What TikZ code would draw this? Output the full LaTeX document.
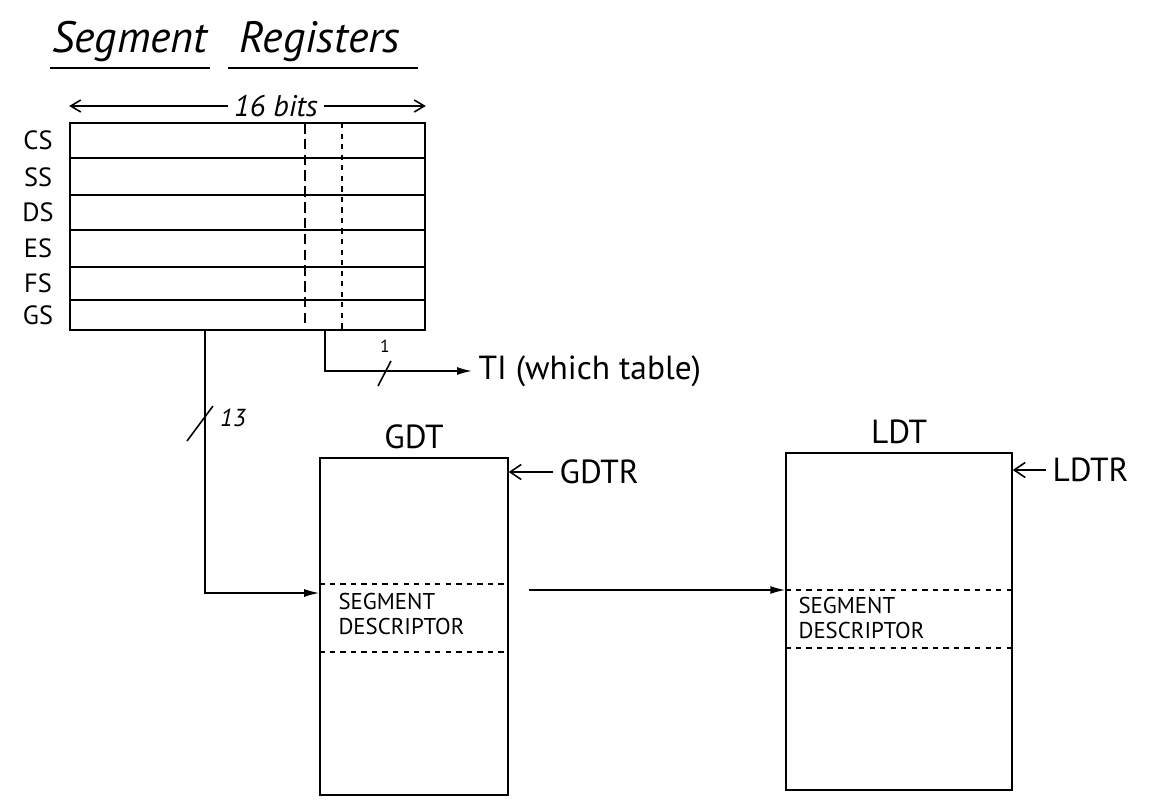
\documentclass[tikz,border=0pt]{standalone}
\usepackage{fontspec}
\setmainfont{PT Sans}
\usetikzlibrary{arrows.meta,positioning}

\begin{document}
\begin{tikzpicture}[x=0.02cm,y=-0.02cm,line width=0.9pt,
  regbox/.style={draw,inner sep=0pt,minimum width=7.1cm,minimum height=4.14cm},
  table/.style={draw,inner sep=0pt,minimum height=6.74cm},
  reglabel/.style={font=\fontsize{15}{17}\selectfont},
  big/.style={font=\fontsize{19}{22}\selectfont},
  desc/.style={font=\fontsize{13}{14}\selectfont,align=left,inner sep=1pt},
  conn/.style={-{Latex[length=3mm,width=1.6mm]}},
  ptr/.style={-{Straight Barb[length=2.2mm,width=3mm]}},
  sep/.style={dash pattern=on 6pt off 3pt}]
\useasboundingbox (0,0) rectangle (1168,804);

\node[font=\fontsize{25}{28}\selectfont\itshape] (segw) at (130,42) {Segment};
\node[font=\fontsize{25}{28}\selectfont\itshape] (regw) at (320,42) {Registers};
\draw (50,68) -- (210,68);
\draw (228,68) -- (418,68);

\node[regbox] (regs) at (247.5,226.5) {};
\node[font=\fontsize{17}{20}\selectfont\itshape] (width) at (276,106) {16 bits};
\draw[-{Straight Barb[length=2mm,width=2.4mm]}] (width.west) -- (width.west -| regs.west);
\draw[-{Straight Barb[length=2mm,width=2.4mm]}] (width.east) -- (width.east -| regs.east);

\foreach \y in {158,195,230,267,300}
  \draw (70,\y) -- (425,\y);
\draw[sep] (305,123) -- (305,330);
\draw[dashed] (342,123) -- (342,330);

\foreach \r/\y in {CS/140,SS/177,DS/212,ES/248,FS/283,GS/315}
  \node[reglabel] (r\r) at (38,\y) {\r};

\node[big,anchor=west] (ti) at (472,371) {TI (which table)};
\draw[conn] (regs.south -| 325,0) |- (ti.west);
\draw (378,386) -- (391,361);
\node[font=\normalsize] (tibit) at (385,346) {1};

\node[table,minimum width=3.76cm] (gdt) at (414,626.5) {};
\node[big,above=1pt of gdt] (gdtname) {GDT};
\node[big,anchor=west] (gdtr) at (553,472) {GDTR};
\draw[ptr] (gdtr.west) -- (gdt.east |- gdtr.west);
\draw[dashed] (gdt.west |- 0,584) -- (gdt.east |- 0,584);
\draw[dashed] (gdt.west |- 0,652) -- (gdt.east |- 0,652);
\node[desc,anchor=north west] (gseg) at (336,591) {SEGMENT\\DESCRIPTOR};

\draw[conn] (regs.south -| 205,0) |- (gdt.west |- 0,593);
\draw (187,441) -- (213,406);
\node[font=\fontsize{14}{16}\selectfont\itshape] (idx) at (233,418) {13};

\node[table,minimum width=4.52cm] (ldt) at (899,621.5) {};
\node[big,above=1pt of ldt] (ldtname) {LDT};
\node[big,anchor=west] (ldtr) at (1046,470) {LDTR};
\draw[ptr] (ldtr.west) -- (ldt.east |- ldtr.west);
\draw[dashed] (ldt.west |- 0,590) -- (ldt.east |- 0,590);
\draw[dashed] (ldt.west |- 0,648) -- (ldt.east |- 0,648);
\node[desc,anchor=north west] (lseg) at (796,595) {SEGMENT\\DESCRIPTOR};

\draw[conn,shorten <=0.4cm] (gdt.east |- 0,590) -- (ldt.west |- 0,590);
\end{tikzpicture}
\end{document}
